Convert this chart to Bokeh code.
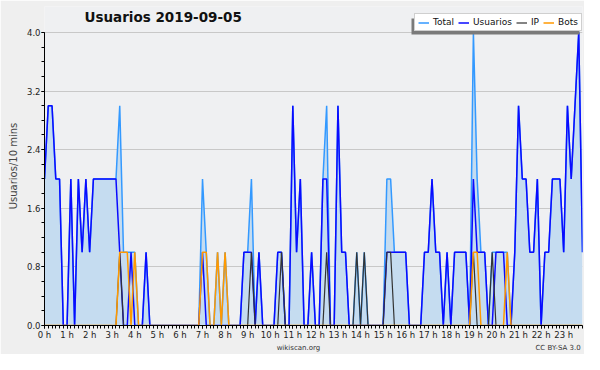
from bokeh.plotting import figure
from bokeh.models import (FixedTicker, PrintfTickFormatter, Legend, LegendItem, Label,
                          Range1d, BoxAnnotation, LinearAxis)
from bokeh.embed import file_html
from bokeh.resources import INLINE

FONT = "DejaVu Sans"

title_text = "Usuarios  2019-09-05"
y_axis_title = "Usuarios/10 mins"
footer_left = "wikiscan.org"
footer_right = "CC BY-SA 3.0"
hour_labels = ["0 h", "1 h", "2 h", "3 h", "4 h", "5 h", "6 h", "7 h", "8 h", "9 h",
               "10 h", "11 h", "12 h", "13 h", "14 h", "15 h", "16 h", "17 h", "18 h",
               "19 h", "20 h", "21 h", "22 h", "23 h"]
y_tick_values = [0.0, 0.8, 1.6, 2.4, 3.2, 4.0]
series_names = ["Total", "Usuarios", "IP", "Bots"]

# values per 10 minutes, one row per hour
total = [
    2, 3, 3, 2, 2, 0,
    0, 2, 0, 2, 1, 2,
    1, 2, 2, 2, 2, 2,
    2, 2, 3, 1, 1, 1,
    1, 0, 0, 1, 0, 0,
    0, 0, 0, 0, 0, 0,
    0, 0, 0, 0, 0, 0,
    2, 1, 0, 0, 1, 0,
    1, 0, 0, 0, 0, 1,
    1, 2, 0, 1, 0, 0,
    0, 0, 1, 1, 0, 0,
    3, 1, 2, 0, 0, 1,
    0, 0, 2, 3, 0, 0,
    3, 1, 1, 0, 0, 1,
    0, 1, 0, 0, 0, 0,
    0, 2, 2, 1, 1, 1,
    1, 0, 0, 0, 0, 1,
    1, 2, 1, 1, 0, 1,
    0, 1, 1, 1, 1, 0,
    4, 2, 1, 1, 0, 1,
    1, 1, 1, 1, 0, 1,
    3, 2, 2, 1, 1, 2,
    0, 1, 1, 2, 2, 2,
    1, 3, 2, 3, 4, 1,
]
usuarios = [
    2, 3, 3, 2, 2, 0,
    0, 2, 0, 2, 1, 2,
    1, 2, 2, 2, 2, 2,
    2, 2, 1, 0, 0, 1,
    0, 0, 0, 1, 0, 0,
    0, 0, 0, 0, 0, 0,
    0, 0, 0, 0, 0, 0,
    1, 0, 0, 0, 0, 0,
    0, 0, 0, 0, 0, 1,
    1, 1, 0, 1, 0, 0,
    0, 0, 1, 1, 0, 0,
    3, 1, 2, 0, 0, 1,
    0, 0, 2, 2, 0, 0,
    3, 1, 1, 0, 0, 0,
    0, 0, 0, 0, 0, 0,
    0, 1, 1, 1, 1, 1,
    1, 0, 0, 0, 0, 1,
    1, 2, 1, 1, 0, 1,
    0, 1, 1, 1, 1, 0,
    2, 1, 1, 1, 0, 0,
    1, 1, 1, 0, 0, 1,
    3, 2, 2, 1, 1, 2,
    0, 1, 1, 2, 2, 2,
    1, 3, 2, 3, 4, 1,
]
ip = [
    0, 0, 0, 0, 0, 0,
    0, 0, 0, 0, 0, 0,
    0, 0, 0, 0, 0, 0,
    0, 0, 1, 0, 0, 0,
    0, 0, 0, 0, 0, 0,
    0, 0, 0, 0, 0, 0,
    0, 0, 0, 0, 0, 0,
    0, 0, 0, 0, 0, 0,
    0, 0, 0, 0, 0, 0,
    0, 1, 0, 0, 0, 0,
    0, 0, 0, 1, 0, 0,
    0, 0, 0, 0, 0, 0,
    0, 0, 0, 1, 0, 0,
    0, 0, 0, 0, 0, 1,
    0, 1, 0, 0, 0, 0,
    0, 1, 1, 0, 0, 0,
    0, 0, 0, 0, 0, 0,
    0, 0, 0, 0, 0, 0,
    0, 0, 0, 0, 0, 0,
    1, 0, 0, 0, 0, 1,
    0, 0, 0, 0, 0, 0,
    0, 0, 0, 0, 0, 0,
    0, 0, 0, 0, 0, 0,
    0, 0, 0, 0, 0, 0,
]
bots = [
    0, 0, 0, 0, 0, 0,
    0, 0, 0, 0, 0, 0,
    0, 0, 0, 0, 0, 0,
    0, 0, 1, 1, 1, 0,
    1, 0, 0, 0, 0, 0,
    0, 0, 0, 0, 0, 0,
    0, 0, 0, 0, 0, 0,
    1, 1, 0, 0, 1, 0,
    1, 0, 0, 0, 0, 0,
    0, 0, 0, 0, 0, 0,
    0, 0, 0, 0, 0, 0,
    0, 0, 0, 0, 0, 0,
    0, 0, 0, 0, 0, 0,
    0, 0, 0, 0, 0, 0,
    0, 0, 0, 0, 0, 0,
    0, 0, 0, 0, 0, 0,
    0, 0, 0, 0, 0, 0,
    0, 0, 0, 0, 0, 0,
    0, 0, 0, 0, 0, 0,
    1, 1, 0, 0, 0, 0,
    0, 0, 0, 1, 0, 0,
    0, 0, 0, 0, 0, 0,
    0, 0, 0, 0, 0, 0,
    0, 0, 0, 0, 0, 0,
]

n = len(total)
x = [i / 6 for i in range(n)]  # hours

# layout (pixels)
W, H = 584, 354
BL, BR, BT, BB = 44, 2, 6, 28
FH = H - BT - BB                # frame height
TOP_PAD = 26                    # room above the 4.0 line for title and legend
y_end = y_tick_values[-1] * FH / (FH - TOP_PAD)

p = figure(width=W, height=H, output_backend="svg", toolbar_location=None,
           x_range=Range1d(0, x[-1]), y_range=Range1d(0, y_end),
           min_border_left=BL, min_border_right=BR, min_border_top=BT, min_border_bottom=BB)
p.background_fill_color = "#eff0f2"
p.border_fill_color = "#efefef"
p.outline_line_color = None

p.varea(x=x, y1=0, y2=total, fill_color="#c5dcf0")
r_total = p.line(x, total, line_color="#3399ff", line_width=1.5)
r_usu = p.line(x, usuarios, line_color="#0a0aff", line_width=1.5)
r_ip = p.line(x, ip, line_color="#333333", line_width=1.2)
r_bots = p.line(x, bots, line_color="#ff9900", line_width=1.5)
renderers = [r_total, r_usu, r_ip, r_bots]

# axes
p.xgrid.visible = False
p.ygrid.grid_line_color = "#c8c8c8"
p.xaxis.ticker = FixedTicker(ticks=list(range(len(hour_labels))), minor_ticks=x)
p.xaxis.major_label_overrides = {i: lab for i, lab in enumerate(hour_labels)}
p.yaxis.ticker = FixedTicker(ticks=y_tick_values, minor_ticks=[k * 0.2 for k in range(21)])
p.yaxis.formatter = PrintfTickFormatter(format="%.1f")
p.yaxis.bounds = (y_tick_values[0], y_tick_values[-1])
p.yaxis.axis_label = y_axis_title
for ax in (p.xaxis[0], p.yaxis[0]):
    ax.axis_line_color = "black"
    ax.major_tick_line_color = "black"
    ax.minor_tick_line_color = "black"
    ax.major_tick_in = 0
    ax.minor_tick_in = 0
    ax.major_tick_out = 3
    ax.minor_tick_out = 3
    ax.major_label_text_font = FONT
    ax.major_label_text_font_size = "8.5px"
    ax.major_label_text_color = "#222222"
    ax.major_label_standoff = 1
p.yaxis.axis_label_text_font = FONT
p.yaxis.axis_label_text_font_size = "10px"
p.yaxis.axis_label_text_font_style = "normal"
p.yaxis.axis_label_standoff = 5

# footer line: site name under the middle, licence at the right (an axis without line/ticks)
footer_pos = {11.25: footer_left, 22.75: footer_right}
footer_axis = LinearAxis(ticker=FixedTicker(ticks=list(footer_pos.keys())),
                         major_label_overrides=footer_pos,
                         axis_line_color=None, major_tick_line_color=None,
                         minor_tick_line_color=None,
                         major_tick_out=0, major_tick_in=0, minor_tick_out=0, minor_tick_in=0,
                         major_label_standoff=1,
                         major_label_text_font=FONT, major_label_text_font_size="7px",
                         major_label_text_color="#333333")
p.add_layout(footer_axis, "below")

# legend (top right, sitting on the 4.0 line) with a grey shadow
LW, LHT = 168, 16
LX, LY = W - BL - BR - LW, FH - TOP_PAD
p.add_layout(BoxAnnotation(left=LX - 3, right=LX - 3 + LW, bottom=LY - 3, top=LY - 3 + LHT,
                           left_units="screen", right_units="screen",
                           bottom_units="screen", top_units="screen",
                           fill_color="#7a7a7a", fill_alpha=1.0, line_color=None))
items = [LegendItem(label=nm, renderers=[r]) for nm, r in zip(series_names, renderers)]
p.add_layout(Legend(items=items, orientation="horizontal", location=(LX, LY), margin=0,
                    padding=3, spacing=4, glyph_width=11, glyph_height=9, label_height=9,
                    label_width=1, label_standoff=4, label_text_font=FONT,
                    label_text_font_size="9px", label_text_color="#111111",
                    background_fill_color="white", background_fill_alpha=1.0,
                    border_line_color="#a0a0a0", border_line_width=1))

# title (inside the top band of the frame)
p.add_layout(Label(x=121, y=FH - 11, x_units="screen", y_units="screen", text=title_text,
                   text_font=FONT, text_font_size="13.5px", text_font_style="bold",
                   text_align="center", text_baseline="middle", text_color="#111111"))

open("out.html", "w").write(file_html(p, INLINE))
